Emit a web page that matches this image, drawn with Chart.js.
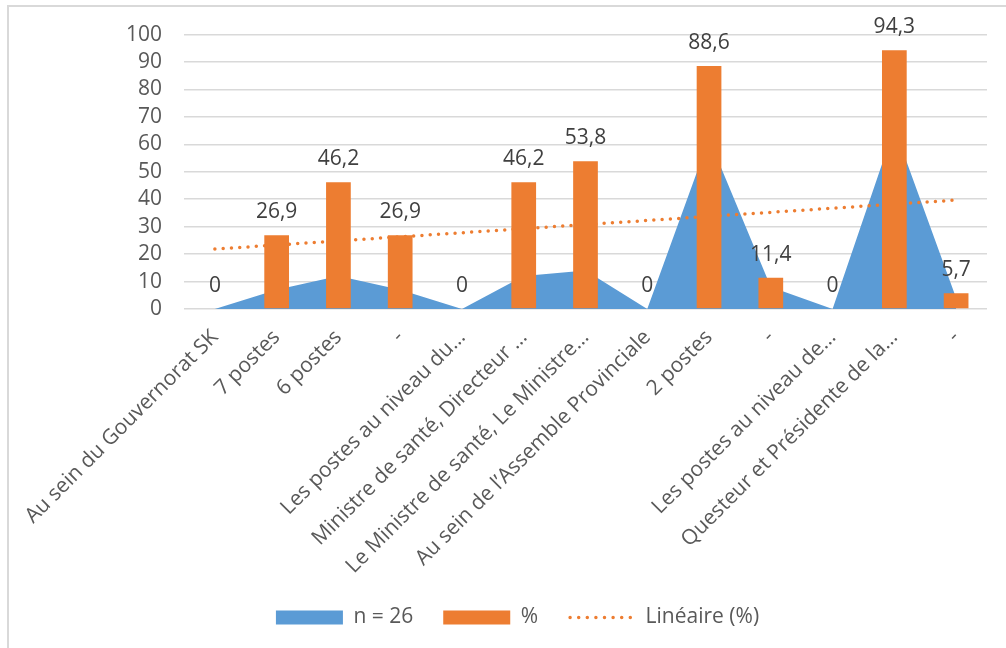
<!DOCTYPE html>
<html>
<head>
<meta charset="utf-8">
<script src="https://cdn.jsdelivr.net/npm/chart.js"></script>
<style>
  body { margin: 0; background: #fff; }
  #frame { position: absolute; left: 7px; top: 5px; right: 0; bottom: 0; border-top: 2px solid #d9d9d9; border-left: 2px solid #d9d9d9; }
  #wrap { position: absolute; left: 0; top: 0; width: 1006px; height: 648px; }
</style>
</head>
<body>
<div id="frame"></div>
<div id="wrap"><canvas id="myChart"></canvas></div>
<script>
const categories = [
  'Au sein du Gouvernorat SK', '7 postes', '6 postes', '-',
  'Les postes au niveau du…', 'Ministre de santé, Directeur …',
  'Le Ministre de santé, Le Ministre…', 'Au sein de l’Assemble Provinciale',
  '2 postes', '-', 'Les postes au niveau de…', 'Questeur et Présidente de la…', '-'
]
const nValues = [0, 7, 12, 7, 0, 12, 14, 0, 62, 8, 0, 66, 4]
const pctValues = [0, 26.9, 46.2, 26.9, 0, 46.2, 53.8, 0, 88.6, 11.4, 0, 94.3, 5.7]
const yMin = 0
const yMax = 100
const yStep = 10

const blue = '#5B9BD5'
const orange = '#ED7D31'
const textGrey = '#595959'

// excel "Linéaire" trendline = least squares fit of the % series
function linearTrend(vals) {
  const n = vals.length
  const mx = (n - 1) / 2
  const my = vals.reduce((a, b) => a + b, 0) / n
  let sxy = 0, sxx = 0
  vals.forEach((v, i) => { sxy += (i - mx) * (v - my); sxx += (i - mx) * (i - mx) })
  const slope = sxy / sxx
  return vals.map((v, i) => my + slope * (i - mx))
}

const fmt = v => String(v).replace('.', ',')

const barLabels = {
  id: 'barLabels',
  afterDatasetsDraw(chart) {
    const ctx = chart.ctx
    const meta = chart.getDatasetMeta(1)
    ctx.save()
    ctx.font = "21px 'Open Sans'"
    ctx.fillStyle = '#404040'
    ctx.textAlign = 'center'
    ctx.textBaseline = 'alphabetic'
    meta.data.forEach((bar, i) => {
      ctx.fillText(fmt(pctValues[i]), bar.x, bar.y - 17)
    })
    ctx.restore()
  }
}

const trendLegend = {
  id: 'trendLegend',
  afterDraw(chart) {
    const lg = chart.legend
    if (!lg || !lg.legendHitBoxes) return
    const idx = lg.legendItems.findIndex(it => it.datasetIndex === 2)
    const box = lg.legendHitBoxes[idx]
    if (!box) return
    const ctx = chart.ctx
    const y = box.top + box.height / 2
    ctx.save()
    ctx.strokeStyle = orange
    ctx.lineWidth = 3.5
    ctx.lineCap = 'round'
    ctx.setLineDash([0, 8.6])
    ctx.beginPath()
    ctx.moveTo(box.left + 2, y)
    ctx.lineTo(box.left + 70, y)
    ctx.stroke()
    ctx.restore()
  }
}

Chart.defaults.font.family = "'Open Sans', sans-serif"
Chart.defaults.font.size = 21
Chart.defaults.color = textGrey

const ctx = document.getElementById('myChart')

new Chart(ctx, {
  type: 'bar',
  data: {
    labels: categories,
    datasets: [
      {
        type: 'line',
        label: 'n = 26',
        data: nValues,
        backgroundColor: blue,
        borderColor: blue,
        borderWidth: 0,
        pointRadius: 0,
        tension: 0,
        fill: 'origin',
        order: 3
      },
      {
        type: 'bar',
        label: '%',
        data: pctValues,
        backgroundColor: orange,
        borderWidth: 0,
        barPercentage: 0.4,
        categoryPercentage: 1,
        order: 1
      },
      {
        type: 'line',
        label: 'Linéaire (%)',
        data: linearTrend(pctValues),
        borderColor: orange,
        backgroundColor: orange,
        borderWidth: 3.5,
        borderDash: [0, 8.3],
        borderCapStyle: 'round',
        pointRadius: 0,
        fill: false,
        order: 2
      }
    ]
  },
  options: {
    responsive: true,
    maintainAspectRatio: false,
    animation: false,
    layout: { padding: { top: 24.5, right: 19, left: 48, bottom: 10 } },
    scales: {
      x: {
        grid: { display: false },
        border: { display: false },
        ticks: { minRotation: 45, maxRotation: 45, autoSkip: false, color: textGrey, padding: 8 },
        afterFit(scale) { scale.height = 268 }
      },
      y: {
        min: yMin,
        max: yMax,
        ticks: { stepSize: yStep, padding: 22, color: textGrey, autoSkip: false },
        grid: { color: '#d9d9d9', lineWidth: 1.5, drawTicks: false },
        border: { display: false },
        afterFit(scale) { scale.width = 136 }
      }
    },
    plugins: {
      tooltip: { enabled: false },
      legend: {
        position: 'bottom',
        labels: {
          boxWidth: 67,
          boxHeight: 14,
          padding: 30,
          color: textGrey,
          sort: (a, b) => a.datasetIndex - b.datasetIndex,
          generateLabels(chart) {
            const items = Chart.defaults.plugins.legend.labels.generateLabels(chart)
            items.forEach(it => {
              it.lineWidth = 0
              if (it.datasetIndex === 2) {
                it.fillStyle = 'rgba(0,0,0,0)'
                it.strokeStyle = 'rgba(0,0,0,0)'
              }
            })
            return items
          }
        }
      }
    }
  },
  plugins: [barLabels, trendLegend]
})
</script>
</body>
</html>
